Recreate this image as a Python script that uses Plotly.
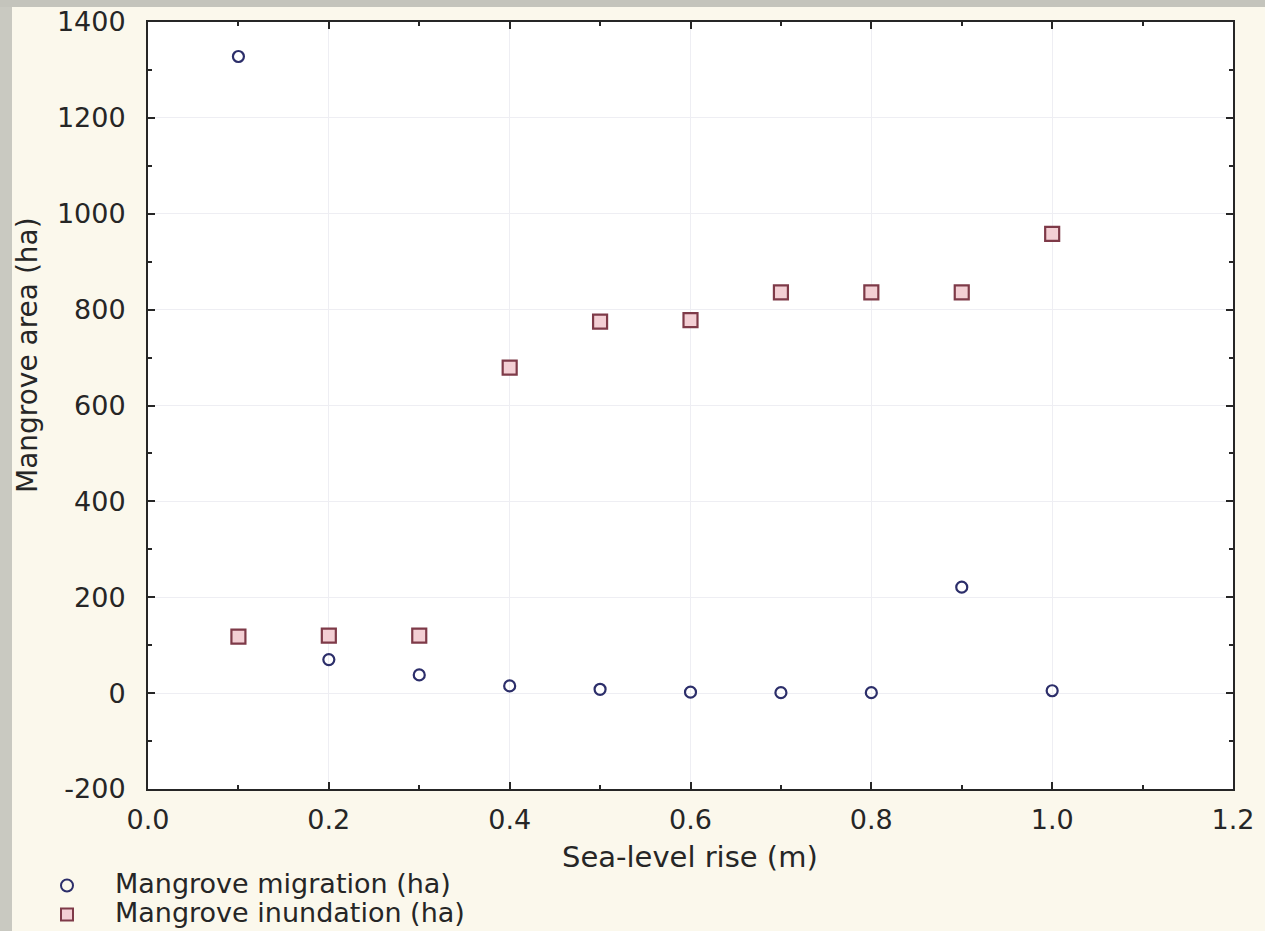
import plotly.graph_objects as go

sea_level = [0.1, 0.2, 0.3, 0.4, 0.5, 0.6, 0.7, 0.8, 0.9, 1.0]
migration = [1328, 70, 38, 15, 8, 2, 1, 1, 221, 5]
inundation = [118, 120, 120, 679, 775, 778, 836, 836, 836, 958]

series_names = ["Mangrove migration (ha)", "Mangrove inundation (ha)"]
x_ticks = [0.0, 0.2, 0.4, 0.6, 0.8, 1.0, 1.2]
y_ticks = [-200, 0, 200, 400, 600, 800, 1000, 1200, 1400]

FONT = "DejaVu Sans, Liberation Sans, Arial, sans-serif"
INK = "#262626"

W, H = 1265, 931
L, R, T, B = 148, 32, 22, 142
PW, PH = W - L - R, H - T - B


def px_x(px):
    return (px - L) / PW


def px_y(py):
    return (H - B - py) / PH


def legend_label(name):
    return f"<span style='font-size:27px'>{name}</span>"


fig = go.Figure()
fig.add_trace(go.Scatter(
    x=sea_level, y=migration, mode="markers", name=legend_label(series_names[0]),
    marker=dict(symbol="circle-open", size=11, color="#2C2E6A", line=dict(width=2.2)),
))
fig.add_trace(go.Scatter(
    x=sea_level, y=inundation, mode="markers", name=legend_label(series_names[1]),
    marker=dict(symbol="square", size=14, color="#F3CFD4", line=dict(width=2.2, color="#7E3A48")),
))

axis_common = dict(
    showline=True, linecolor=INK, linewidth=2, mirror="allticks",
    ticks="inside", ticklen=7, tickwidth=2, tickcolor=INK,
    showgrid=True, gridcolor="#EEEEF3", gridwidth=1, zeroline=False,
    tickfont=dict(family=FONT, size=27, color=INK),
    minor=dict(ticks="inside", ticklen=4, tickwidth=1.5, tickcolor=INK, showgrid=False),
)

fig.update_xaxes(range=[0.0, 1.2], tickvals=x_ticks, ticktext=[f"{v:.1f}" for v in x_ticks],
                 minor_dtick=0.1, ticklabelstandoff=6, **axis_common)
fig.update_yaxes(range=[-200, 1400], tickvals=y_ticks, ticktext=[str(v) for v in y_ticks],
                 minor_dtick=100, ticklabelstandoff=15, **axis_common)

fig.add_annotation(text="Sea-level rise (m)", xref="paper", yref="paper",
                   x=px_x(690), y=px_y(857), xanchor="center", yanchor="middle", showarrow=False,
                   font=dict(family=FONT, size=29, color=INK))
fig.add_annotation(text="Mangrove area (ha)", xref="paper", yref="paper",
                   x=px_x(27), y=px_y(355), xanchor="center", yanchor="middle", showarrow=False,
                   textangle=-90, font=dict(family=FONT, size=28, color=INK))

# photographic grey strips at the left and top edges of the slide
fig.add_shape(type="rect", xref="paper", yref="paper", x0=px_x(0), x1=px_x(12), y0=px_y(H), y1=px_y(0),
              fillcolor="#C9C9C1", line=dict(width=0), layer="below")
fig.add_shape(type="rect", xref="paper", yref="paper", x0=px_x(0), x1=px_x(W), y0=px_y(7), y1=px_y(0),
              fillcolor="#C4C4BC", line=dict(width=0), layer="below")

fig.update_layout(
    width=W, height=H,
    margin=dict(l=L, r=R, t=T, b=B, autoexpand=False),
    paper_bgcolor="#FBF8EC", plot_bgcolor="#FFFFFF",
    showlegend=True,
    legend=dict(x=px_x(19), y=px_y(866), xanchor="left", yanchor="top", bgcolor="rgba(0,0,0,0)",
                font=dict(family=FONT, size=20, color=INK), tracegroupgap=0,
                itemwidth=86, itemsizing="constant"),
)

fig.write_html("out.html", config={"displayModeBar": False},
               post_script="document.body.style.margin='0';")
